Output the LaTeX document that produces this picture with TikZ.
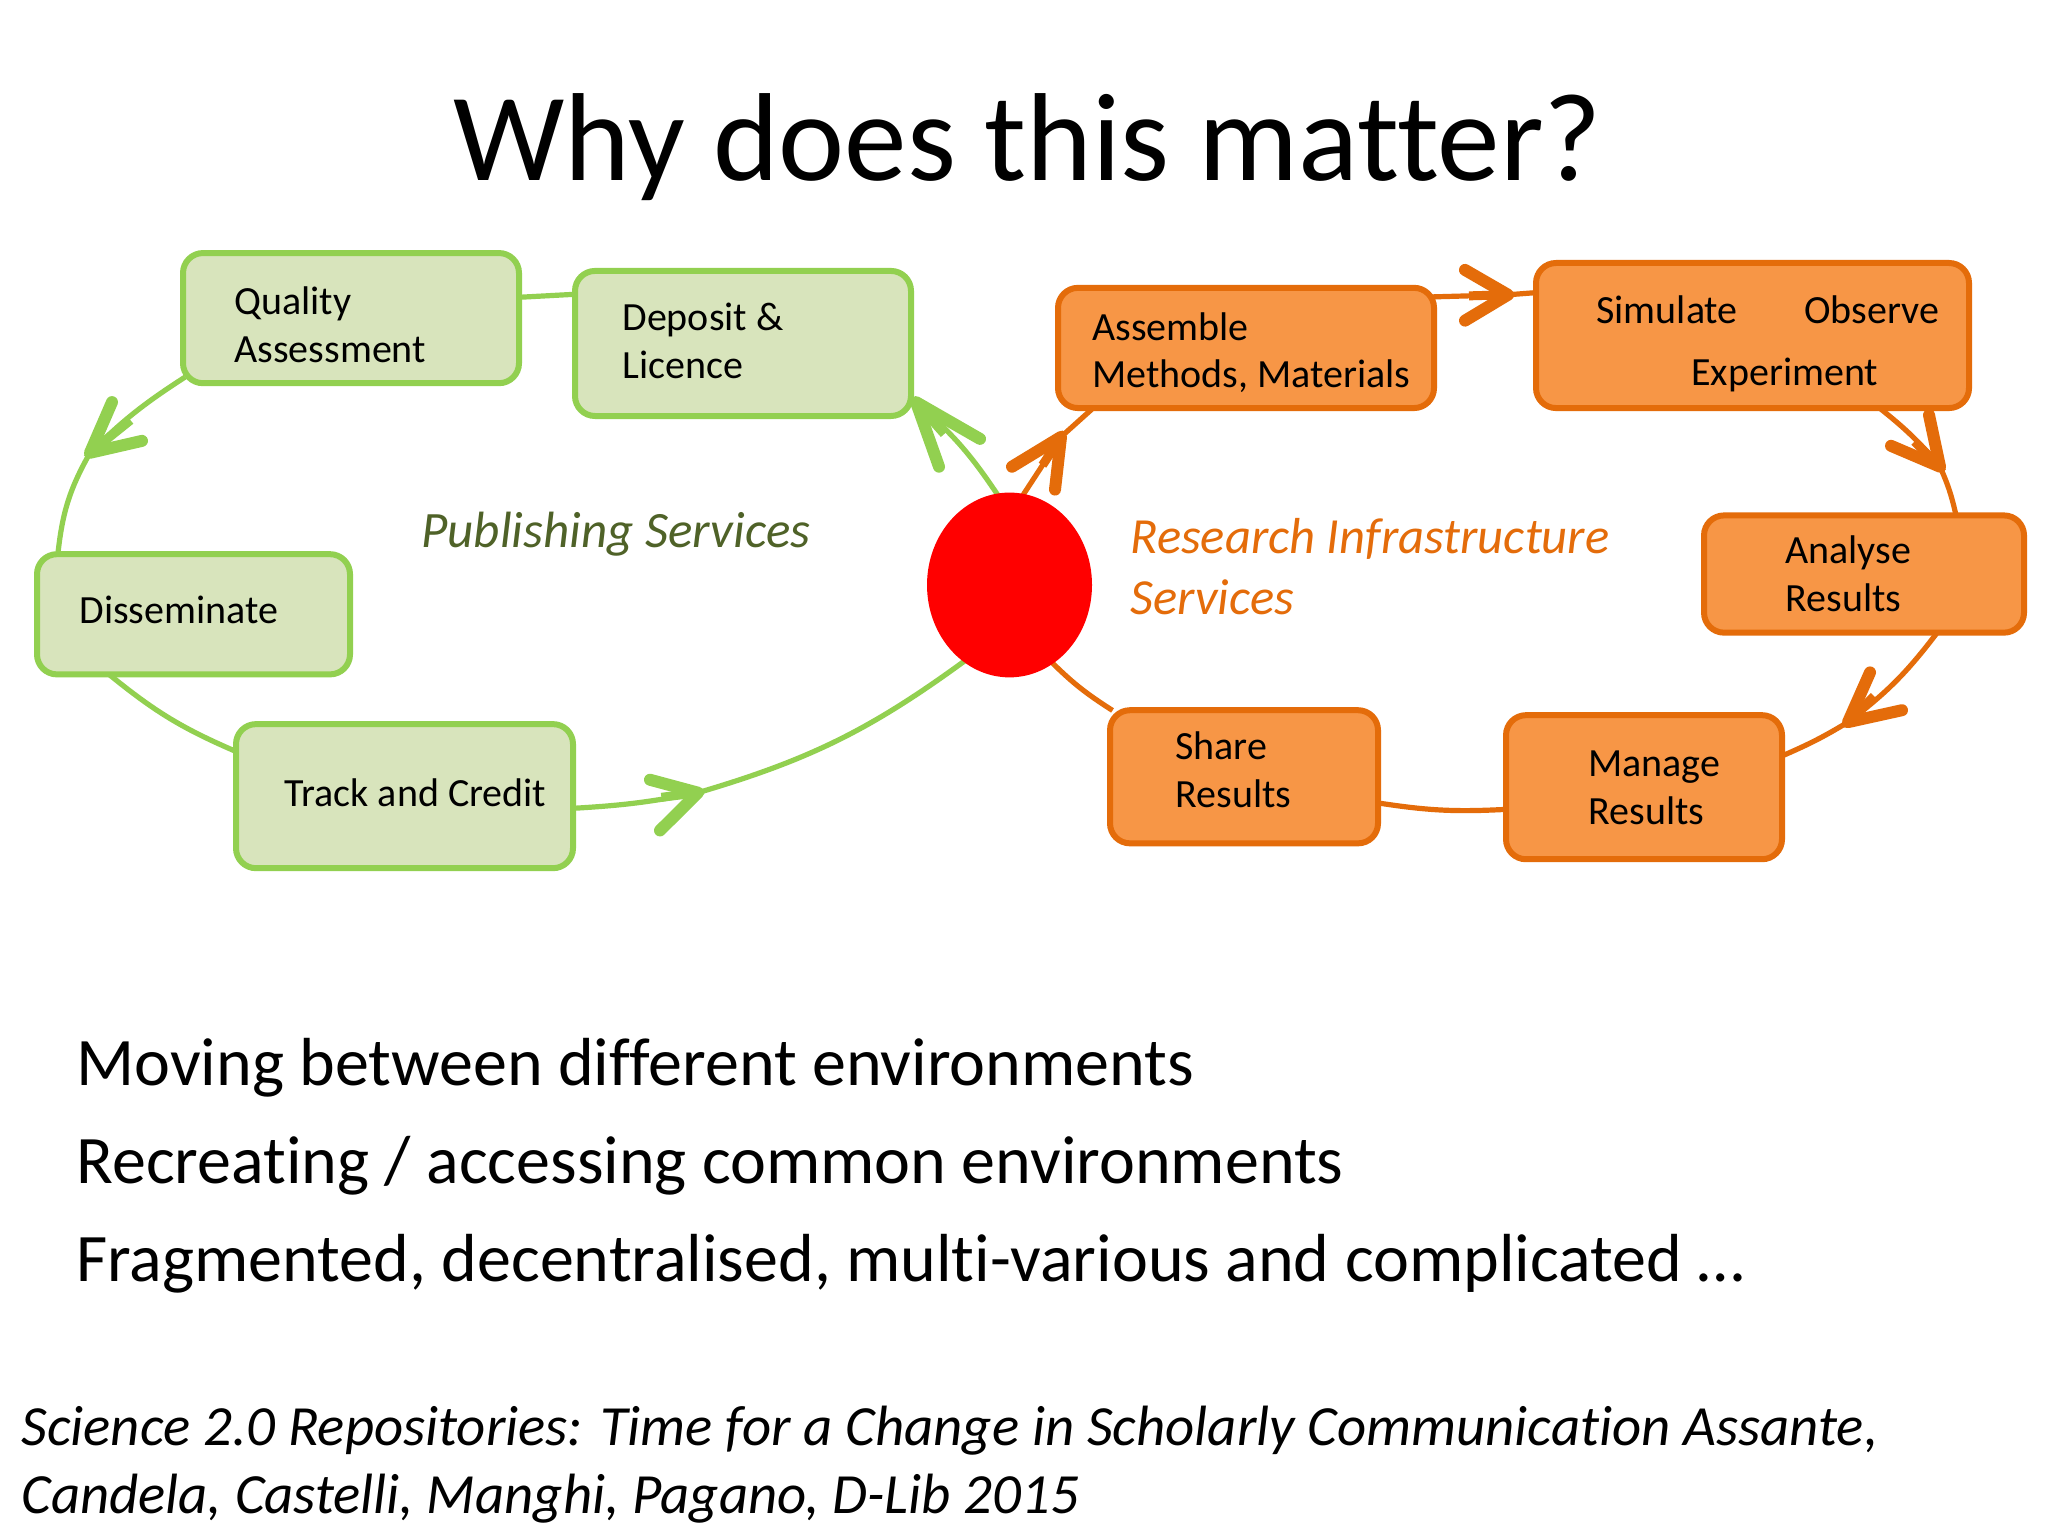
\documentclass[tikz,border=0pt]{standalone}
\usepackage{fontspec}
\setmainfont{Carlito}[Ligatures=CommonOff]
\usetikzlibrary{shapes.geometric,backgrounds,calc}
\definecolor{gline}{HTML}{92D050}
\definecolor{gfill}{HTML}{D8E4BC}
\definecolor{oline}{HTML}{E46C0A}
\definecolor{ofill}{HTML}{F79646}
\definecolor{gtext}{HTML}{4F6228}
\tikzset{
  px/.style={x=0.5pt,y=-0.5pt},
  diagram/.style={y=-0.4969pt,yshift=-0.8pt},
  gbox/.style={draw=gline,fill=gfill,line width=3pt,rounded corners=10pt,inner sep=0pt},
  obox/.style={draw=oline,fill=ofill,line width=3pt,rounded corners=10pt,inner sep=0pt},
  boxtext/.style={anchor=base west,inner sep=0pt,font=\fontsize{20}{24}\selectfont,text=black},
  bodytext/.style={anchor=base west,inner sep=0pt,font=\fontsize{34}{40}\selectfont,text=black},
  citetext/.style={anchor=base west,inner sep=0pt,font=\fontsize{28.4}{34}\selectfont\itshape,text=black},
  gconn/.style={draw=gline,line width=2.6pt,shorten <=-3pt,shorten >=-3pt},
  oconn/.style={draw=oline,line width=2.6pt,shorten <=-3pt,shorten >=-3pt},
  gbarb/.style={draw=gline,line width=6pt,line cap=round,line join=round},
  obarb/.style={draw=oline,line width=6pt,line cap=round,line join=round},
  gstem/.style={draw=gline,line width=4.5pt},
  ostem/.style={draw=oline,line width=4.5pt},
}
\newcommand{\bx}[6]{\node[#1,minimum width=#4*0.5pt-3pt,minimum height=#5*0.4969pt-3pt] (#6) at (#2,#3) {};}
\begin{document}
\begin{tikzpicture}[px]
\useasboundingbox (0,0) rectangle (2048,1536);
\begin{scope}[on background layer]
\fill[white] (0,0) rectangle (2048,1536);
\end{scope}

\node[anchor=base west,inner sep=0pt,font=\fontsize{62.6}{74}\selectfont] (title) at (453,180) {Why does this matter?};

\begin{scope}[diagram]
% boxes
\bx{gbox}{351}{318.5}{342}{137}{qual}
\bx{gbox}{743}{344}{342}{152}{depo}
\bx{gbox}{193.5}{616.5}{319}{127}{diss}
\bx{gbox}{404.5}{799.5}{343}{151}{track}
\bx{obox}{1246}{348.5}{382}{127}{asse}
\bx{obox}{1752.5}{336}{439}{152}{simu}
\bx{obox}{1864}{576}{326}{124}{anal}
\bx{obox}{1644}{790.5}{282}{151}{mana}
\bx{obox}{1244}{780}{274}{140}{shar}
\node[ellipse,fill=red,inner sep=0pt,minimum width=82.5pt,minimum height=92.4pt] (hub) at (1009.5,587) {};

% box texts
\node[boxtext] (t1) at (234,315) {Quality};
\node[boxtext] (t2) at (234,363) {Assessment};
\node[boxtext] (t3) at (622,331) {Deposit \&};
\node[boxtext] (t4) at (622,379) {Licence};
\node[boxtext] (t5) at (79,626) {Disseminate};
\node[boxtext] (t6) at (284,809.5) {Track and Credit};
\node[boxtext] (t7) at (1092,341) {Assemble};
\node[boxtext] (t8) at (1092,388) {Methods, Materials};
\node[boxtext] (t9) at (1596,323.5) {Simulate};
\node[boxtext] (t10) at (1804,323.5) {Observe};
\node[boxtext] (t11) at (1691,386) {Experiment};
\node[boxtext] (t12) at (1785,565) {Analyse};
\node[boxtext] (t13) at (1785,614) {Results};
\node[boxtext] (t14) at (1588,780) {Manage};
\node[boxtext] (t15) at (1588,828) {Results};
\node[boxtext] (t16) at (1175,763) {Share};
\node[boxtext] (t17) at (1175,811) {Results};

\node[anchor=base west,inner sep=0pt,font=\fontsize{25.5}{30}\selectfont\itshape,text=gtext] (pub) at (421,549) {Publishing Services};
\node[anchor=base west,inner sep=0pt,font=\fontsize{25.3}{30}\selectfont\itshape,text=oline] (res1) at (1130,555) {Research Infrastructure};
\node[anchor=base west,inner sep=0pt,font=\fontsize{25.3}{30}\selectfont\itshape,text=oline] (res2) at (1130,617) {Services};

% arrow tips and barb ends
\coordinate (g1) at (90,454);   \coordinate (g1a) at (112,403);  \coordinate (g1b) at (142,442);
\coordinate (g2) at (916,403);  \coordinate (g2a) at (939,468);  \coordinate (g2b) at (980,440);
\coordinate (g3) at (698,796);  \coordinate (g3a) at (650,783);  \coordinate (g3b) at (660,834);
\coordinate (o1) at (1061,438); \coordinate (o1a) at (1055,491); \coordinate (o1b) at (1012,468);
\coordinate (o2) at (1508,295); \coordinate (o2a) at (1465,270); \coordinate (o2b) at (1465,321);
\coordinate (o3) at (1940,468); \coordinate (o3a) at (1929,416); \coordinate (o3b) at (1891,447);
\coordinate (o4) at (1848,725); \coordinate (o4a) at (1870,675); \coordinate (o4b) at (1902,713);

\begin{scope}[on background layer]
% green loop
\draw[gconn] (qual.7.6) -- (depo.164.6);
\draw[gconn] (qual.200) to[bend right=6] (g1);
\draw[gconn] (g1) to[bend right=12] (diss.155.1);
\draw[gconn] (diss.218.6) to[bend right=8] (track.165.8);
\draw[gconn] (track.-4.2) to[bend right=4] (g3);
\draw[gconn] (g3) to[bend right=10] (hub.239.2);
\draw[gconn] (hub.98.3) to[bend right=8] (g2);
\draw[gstem] (g1) -- ($(g1)!0.45!(qual.200)$);
\draw[gstem] (g2) -- ($(g2)!0.35!(hub.98.3)$);
\draw[gstem] (g3) -- ($(g3)!0.3!(track.-4.2)$);
\draw[gbarb] (g1a) -- (g1) -- (g1b);
\draw[gbarb] (g2a) -- (g2) -- (g2b);
\draw[gbarb] (g3a) -- (g3) -- (g3b);
% orange loop
\draw[oconn] (hub.81) -- (o1);
\draw[oconn] (o1) -- (asse.202);
\draw[oconn] (asse.15.4) -- (o2);
\draw[oconn] (o2) -- (simu.169.7);
\draw[oconn] (simu.-30.2) to[bend left=6] (o3);
\draw[oconn] (o3) to[bend left=6] (anal.34.3);
\draw[oconn] (anal.-41.1) to[bend left=8] (o4);
\draw[oconn] (o4) to[bend left=4] (mana.13.4);
\draw[oconn] (mana.189.5) to[bend left=6] (shar.-11.6);
\draw[oconn] (shar.153.8) to[bend left=6] (hub.-61.5);
\draw[ostem] (o1) -- ($(o1)!0.5!(hub.81)$);
\draw[ostem] (o2) -- ($(o2)!0.55!(asse.15.4)$);
\draw[ostem] (o3) -- ($(o3)!0.45!(simu.-30.2)$);
\draw[ostem] (o4) -- ($(o4)!0.3!(anal.-41.1)$);
\draw[obarb] (o1a) -- (o1) -- (o1b);
\draw[obarb] (o2a) -- (o2) -- (o2b);
\draw[obarb] (o3a) -- (o3) -- (o3b);
\draw[obarb] (o4a) -- (o4) -- (o4b);
\end{scope}
\end{scope}

\node[bodytext] (b1) at (76,1085) {Moving between different environments};
\node[bodytext] (b2) at (76,1183) {Recreating / accessing common environments};
\node[bodytext] (b3) at (76,1281.5) {Fragmented, decentralised, multi-various and complicated …};
\node[citetext] (c1) at (21,1445.5) {Science 2.0 Repositories: Time for a Change in Scholarly Communication Assante,};
\node[citetext] (c2) at (21,1513.5) {Candela, Castelli, Manghi, Pagano, D-Lib 2015};
\end{tikzpicture}
\end{document}
